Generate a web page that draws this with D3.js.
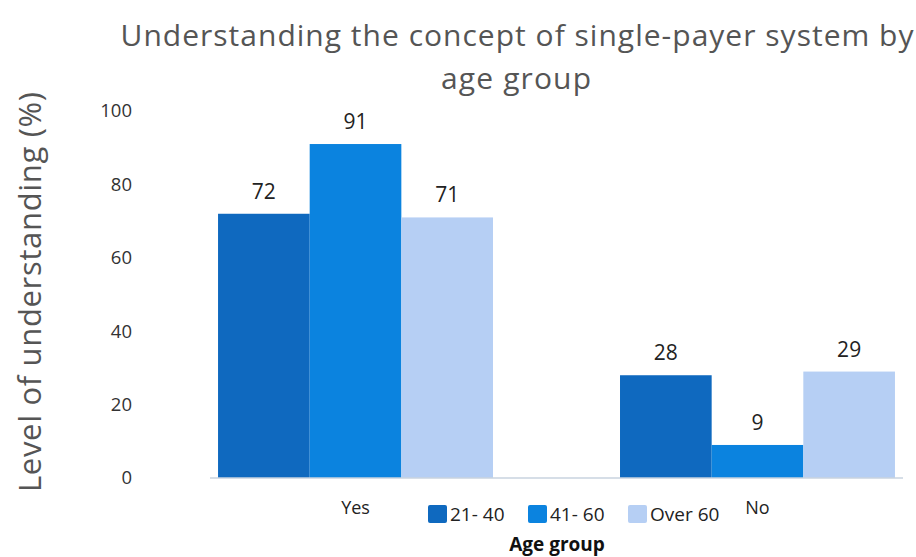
<!DOCTYPE html>
<html>
<head>
<meta charset="utf-8">
<script src="https://cdn.jsdelivr.net/npm/d3@7"></script>
<style>
  body { margin: 0; background: #fff; }
  text { font-family: "Open Sans", "Noto Sans", sans-serif; }
</style>
</head>
<body>
<svg id="chart" width="916" height="557"></svg>
<script>
"use strict";

// chart values
var answers = ["Yes", "No"];
var ageGroups = ["21- 40", "41- 60", "Over 60"];
var values21to40 = [72, 28];
var values41to60 = [91, 9];
var valuesOver60 = [71, 29];
var yTicks = [0, 20, 40, 60, 80, 100];

var seriesValues = [values21to40, values41to60, valuesOver60];
var colors = ["#0f69bf", "#0b83df", "#b6cff4"];

var svg = d3.select("#chart");
var margin = {top: 111, left: 210, right: 13, bottom: 79};
var width = 916 - margin.left - margin.right;
var height = 557 - margin.top - margin.bottom;

var x0 = d3.scaleBand().domain(answers).range([0, width]).paddingInner(0.316).paddingOuter(0.02);
var x1 = d3.scaleBand().domain(ageGroups).range([0, x0.bandwidth()]);
var y = d3.scaleLinear().domain([0, 100]).range([height, 0]);

var g = svg.append("g").attr("transform", "translate(" + margin.left + "," + margin.top + ")");

// bars + value labels
answers.forEach(function(a, i) {
  var grp = g.append("g").attr("transform", "translate(" + x0(a) + ",0)");
  ageGroups.forEach(function(s, j) {
    var v = seriesValues[j][i];
    grp.append("rect")
      .attr("x", x1(s))
      .attr("y", y(v))
      .attr("width", x1.bandwidth())
      .attr("height", y(0) - y(v))
      .attr("fill", colors[j]);
    grp.append("text")
      .attr("x", x1(s) + x1.bandwidth() / 2)
      .attr("y", y(v) - 15)
      .attr("text-anchor", "middle")
      .attr("font-size", "21px")
      .attr("fill", "#222")
      .text(v);
  });
});

// baseline
g.append("line")
  .attr("x1", 0).attr("x2", width)
  .attr("y1", y(0)).attr("y2", y(0))
  .attr("stroke", "#c9d3df").attr("stroke-width", 1.5);

// y tick labels
g.selectAll(".ytick").data(yTicks).enter().append("text")
  .attr("class", "ytick")
  .attr("x", -78)
  .attr("y", function(d) { return y(d); })
  .attr("dy", "0.35em")
  .attr("text-anchor", "end")
  .attr("font-size", "18.5px")
  .attr("fill", "#333")
  .text(function(d) { return d; });

// category labels
g.selectAll(".xlabel").data(answers).enter().append("text")
  .attr("class", "xlabel")
  .attr("x", function(d) { return x0(d) + x0.bandwidth() / 2; })
  .attr("y", height + 36)
  .attr("text-anchor", "middle")
  .attr("font-size", "18px")
  .attr("fill", "#222")
  .text(function(d) { return d; });

// legend
var legendX = [428, 528, 628];
var legend = svg.append("g");
ageGroups.forEach(function(s, j) {
  legend.append("rect")
    .attr("x", legendX[j]).attr("y", 505)
    .attr("width", 19).attr("height", 18)
    .attr("rx", 2)
    .attr("fill", colors[j]);
  legend.append("text")
    .attr("x", legendX[j] + 22).attr("y", 521)
    .attr("font-size", "19px")
    .attr("fill", "#222")
    .text(s);
});

// axis titles
svg.append("text")
  .attr("x", 557).attr("y", 551)
  .attr("text-anchor", "middle")
  .attr("font-size", "19px")
  .attr("font-weight", "bold")
  .attr("fill", "#111")
  .text("Age group");

svg.append("text")
  .attr("transform", "translate(41,292) rotate(-90)")
  .attr("text-anchor", "middle")
  .attr("font-size", "31px")
  .attr("textLength", 400)
  .attr("lengthAdjust", "spacing")
  .attr("fill", "#555")
  .text("Level of understanding (%)");

// chart title
svg.append("text")
  .attr("x", 517).attr("y", 46)
  .attr("text-anchor", "middle")
  .attr("font-size", "30px")
  .attr("textLength", 793)
  .attr("lengthAdjust", "spacing")
  .attr("fill", "#555")
  .text("Understanding the concept of single-payer system by");
svg.append("text")
  .attr("x", 516).attr("y", 89)
  .attr("text-anchor", "middle")
  .attr("font-size", "30px")
  .attr("textLength", 150)
  .attr("lengthAdjust", "spacing")
  .attr("fill", "#555")
  .text("age group");
</script>
</body>
</html>
